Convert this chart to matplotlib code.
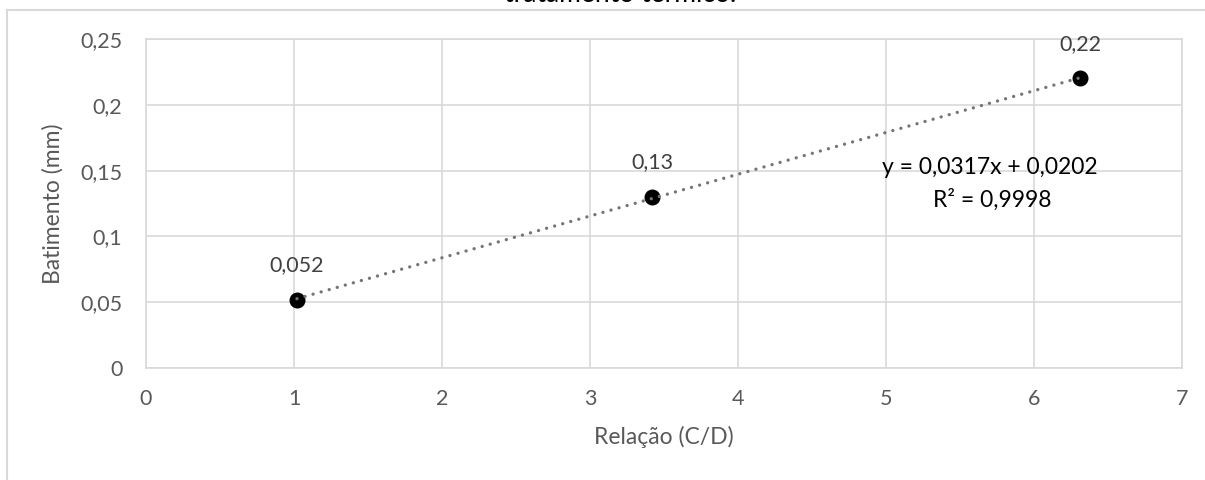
import numpy as np
import matplotlib
matplotlib.use('Agg')
import matplotlib.pyplot as plt
from matplotlib.lines import Line2D

plt.rcParams['font.family'] = ['Lato', 'DejaVu Sans']

# data
relacao = [1.02, 3.42, 6.31]
batimento = [0.052, 0.13, 0.22]
rotulos = ['0,052', '0,13', '0,22']
xticks = [0, 1, 2, 3, 4, 5, 6, 7]
yticks = [0, 0.05, 0.1, 0.15, 0.2, 0.25]
ytick_labels = ['0', '0,05', '0,1', '0,15', '0,2', '0,25']
equacao = 'y = 0,0317x + 0,0202'
r2 = 'R² = 0,9998'
titulo = 'tratamento térmico.'

W, H = 1205, 480
fig = plt.figure(figsize=(W / 100, H / 100), dpi=100)
ax = fig.add_axes([146 / W, 1 - 368 / H, (1182 - 146) / W, (368 - 39) / H])

grid_c = '#d9d9d9'
txt_c = '#595959'

# chart frame (partly cropped in the original)
fig.add_artist(Line2D([7.5 / W, 1.0], [1 - 9.5 / H, 1 - 9.5 / H], color=grid_c, lw=1.5))
fig.add_artist(Line2D([7.5 / W, 7.5 / W], [0, 1 - 9.5 / H], color=grid_c, lw=1.5))
# last line of the title, cut off by the top edge like in the original
fig.text(620 / W, 1 - 2 / H, titulo, ha='center', va='baseline', fontsize=19, color='#000000')

# trendline
coef = np.polyfit(relacao, batimento, 1)
xt = np.array([min(relacao), max(relacao)])
ax.plot(xt, np.polyval(coef, xt), color='#757575', lw=2.4,
        linestyle=(0, (0.01, 2.5)), dash_capstyle='round', zorder=4)

ax.plot(relacao, batimento, 'o', color='black', markersize=10.5, zorder=3)

for x, y, s in zip(relacao, batimento, rotulos):
    ax.annotate(s, (x, y), xytext=(0, 25), textcoords='offset points',
                ha='center', va='center', fontsize=15.5, color='#404040')

fig.text(990 / W, 1 - 167 / H, equacao, ha='center', va='center', fontsize=16.5, color='#000000')
fig.text(992 / W, 1 - 200 / H, r2, ha='center', va='center', fontsize=16.5, color='#000000')

ax.set_xlim(0, 7)
ax.set_ylim(0, 0.25)
ax.set_xticks(xticks)
ax.set_xticklabels([str(t) for t in xticks])
ax.set_yticks(yticks)
ax.set_yticklabels(ytick_labels)
ax.tick_params(axis='both', length=0, labelsize=15.5, labelcolor=txt_c)
ax.tick_params(axis='x', pad=15)
ax.tick_params(axis='y', pad=17)
ax.grid(True, color=grid_c, lw=1.2)
ax.set_axisbelow(True)
for sp in ax.spines.values():
    sp.set_color(grid_c)
    sp.set_linewidth(1.2)

ax.set_xlabel('Relação (C/D)', fontsize=16.5, color=txt_c, labelpad=12)
ax.set_ylabel('Batimento (mm)', fontsize=16.5, color=txt_c, labelpad=12)

fig.savefig('out.png', dpi=100)
